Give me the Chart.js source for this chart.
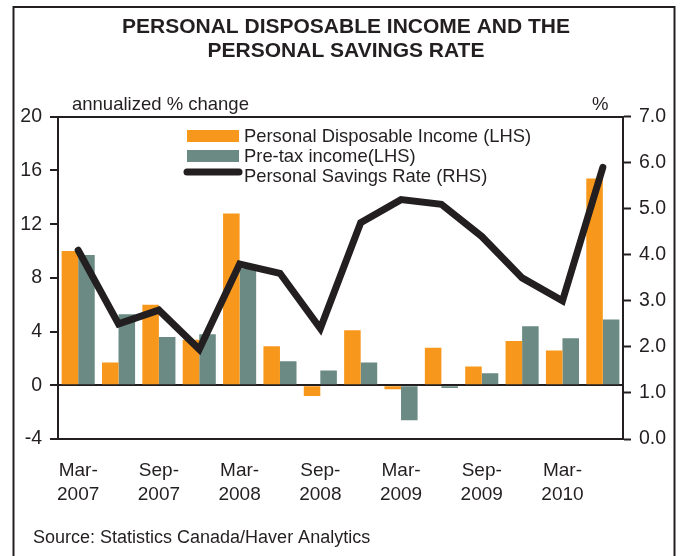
<!DOCTYPE html>
<html>
<head>
<meta charset="utf-8">
<script src="https://cdn.jsdelivr.net/npm/chart.js@4.4.1/dist/chart.umd.min.js"></script>
<style>
  html, body { margin: 0; padding: 0; background: #ffffff; }
  #wrap { width: 685px; height: 556px; position: relative; }
</style>
</head>
<body>
<div id="wrap"><canvas id="c" width="685" height="556"></canvas></div>
<script>
// ---- Data ----
const categories = ['Mar-2007','Jun-2007','Sep-2007','Dec-2007','Mar-2008','Jun-2008','Sep-2008','Dec-2008','Mar-2009','Jun-2009','Sep-2009','Dec-2009','Mar-2010','Jun-2010'];
const xTickLabels = [['Mar-','2007'], '', ['Sep-','2007'], '', ['Mar-','2008'], '', ['Sep-','2008'], '', ['Mar-','2009'], '', ['Sep-','2009'], '', ['Mar-','2010'], ''];
const disposableIncome = [10.0, 1.7, 6.0, 3.4, 12.8, 2.9, -0.8, 4.1, -0.3, 2.8, 1.4, 3.3, 2.6, 15.4];
const preTaxIncome     = [9.7, 5.3, 3.6, 3.8, 8.7, 1.8, 1.1, 1.7, -2.6, -0.2, 0.9, 4.4, 3.5, 4.9];
const savingsRate      = [4.1, 2.5, 2.8, 1.95, 3.8, 3.6, 2.4, 4.7, 5.2, 5.1, 4.4, 3.5, 3.0, 5.9];
const seriesLabels = ['Personal Disposable Income (LHS)', 'Pre-tax income(LHS)', 'Personal Savings Rate (RHS)'];
const titleLines = ['PERSONAL DISPOSABLE INCOME AND THE', 'PERSONAL SAVINGS RATE'];
const leftAxisTitle = 'annualized % change';
const rightAxisTitle = '%';
const sourceText = 'Source: Statistics Canada/Haver Analytics';

const INK = '#231f20';
const ORANGE = '#f7981d';
const TEAL = '#6a8a83';
const FONT = '"Liberation Sans", Arial, Helvetica, sans-serif';

const decor = {
  id: 'decor',
  afterDraw(chart) {
    const ctx = chart.ctx;
    ctx.save();
    // outer frame
    ctx.strokeStyle = INK;
    ctx.lineWidth = 2;
    ctx.strokeRect(13.5, 7, 661, 600);
    // axis titles
    ctx.fillStyle = INK;
    ctx.textBaseline = 'alphabetic';
    ctx.textAlign = 'left';
    ctx.font = '18.5px ' + FONT;
    ctx.fillText(leftAxisTitle, 72, 110);
    ctx.fillText(rightAxisTitle, 592, 110);
    // legend
    const ds = chart.data.datasets;
    const rows = [142, 162, 182];
    ctx.font = '18.4px ' + FONT;
    ds.forEach((d, i) => {
      const base = rows[i];
      if (d.type === 'line') {
        ctx.strokeStyle = d.borderColor;
        ctx.lineWidth = 7;
        ctx.lineCap = 'round';
        ctx.beginPath();
        ctx.moveTo(187, base - 10);
        ctx.lineTo(239, base - 10);
        ctx.stroke();
      } else {
        ctx.fillStyle = d.backgroundColor;
        ctx.fillRect(187, base - 12, 52, 12);
      }
      ctx.fillStyle = INK;
      ctx.fillText(d.label, 244, base);
    });
    // source
    ctx.font = '18px ' + FONT;
    ctx.fillText(sourceText, 33, 543);
    ctx.restore();
  }
};

const blackAt = (vals) => (c) => (c.tick && vals.includes(c.tick.value)) ? INK : 'rgba(0,0,0,0)';

new Chart(document.getElementById('c'), {
  data: {
    labels: categories,
    datasets: [
      {
        type: 'bar', label: seriesLabels[0], data: disposableIncome, yAxisID: 'y',
        backgroundColor: ORANGE, barPercentage: 1.0, categoryPercentage: 0.82, order: 1
      },
      {
        type: 'bar', label: seriesLabels[1], data: preTaxIncome, yAxisID: 'y',
        backgroundColor: TEAL, barPercentage: 1.0, categoryPercentage: 0.82, order: 1
      },
      {
        type: 'line', label: seriesLabels[2], data: savingsRate, yAxisID: 'y2',
        borderColor: INK, backgroundColor: INK, borderWidth: 7,
        pointRadius: 0, tension: 0, borderCapStyle: 'round', borderJoinStyle: 'miter', order: 0
      }
    ]
  },
  options: {
    responsive: false,
    animation: false,
    layout: { padding: { left: 7, right: 0, top: 0, bottom: 0 } },
    plugins: {
      legend: { display: false },
      tooltip: { enabled: false },
      title: {
        display: true, text: titleLines, color: INK,
        font: { family: FONT, size: 21, weight: 'bold', lineHeight: 1.114 },
        padding: { top: 16, bottom: 54 }
      }
    },
    scales: {
      x: {
        type: 'category', position: 'bottom', offset: true,
        grid: { display: false, drawTicks: false },
        border: { display: false },
        ticks: {
          autoSkip: false, maxRotation: 0, minRotation: 0, padding: 19, color: INK,
          font: { family: FONT, size: 19, lineHeight: 1.3 },
          callback: (v, i) => xTickLabels[i]
        },
        afterFit: (s) => { s.height = 117; }
      },
      y: {
        position: 'left', min: -4, max: 20,
        ticks: { stepSize: 4, padding: 8, color: INK, font: { family: FONT, size: 19.5 } },
        grid: { color: blackAt([20, 0, -4]), lineWidth: 2, tickColor: INK, tickLength: 8, tickWidth: 2 },
        border: { display: true, color: INK, width: 2 },
        afterFit: (s) => { s.width = 51; }
      },
      y2: {
        position: 'right', min: 0, max: 7,
        ticks: { stepSize: 1, padding: 8, color: INK, font: { family: FONT, size: 19.5 }, callback: (v) => Number(v).toFixed(1) },
        grid: { drawOnChartArea: false, tickColor: INK, tickLength: 8, tickWidth: 2 },
        border: { display: true, color: INK, width: 2 },
        afterFit: (s) => { s.width = 62; }
      }
    }
  },
  plugins: [decor]
});
</script>
</body>
</html>
